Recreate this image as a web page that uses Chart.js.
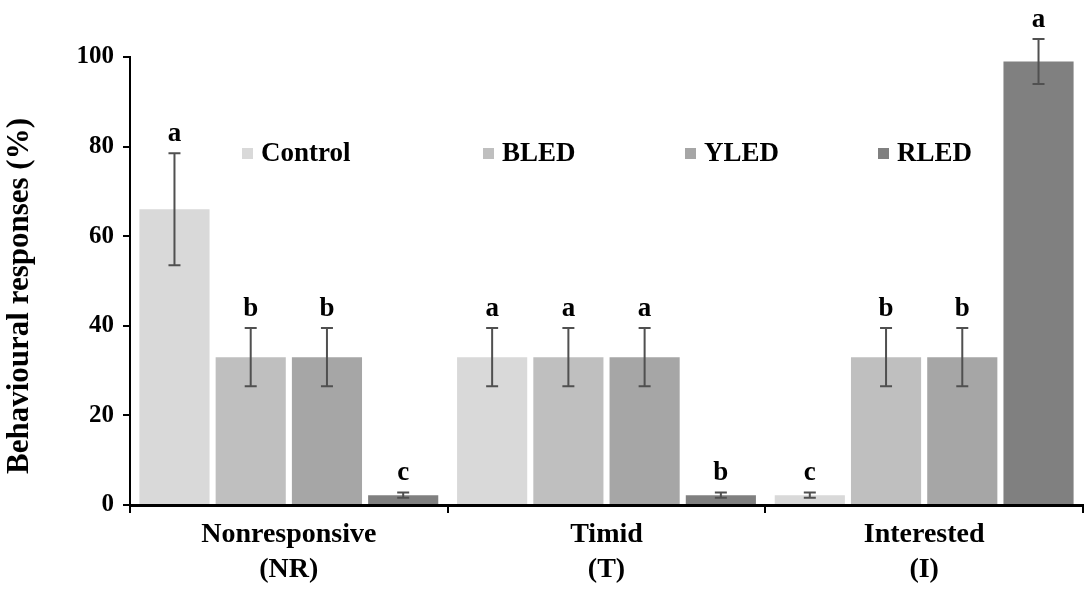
<!DOCTYPE html>
<html>
<head>
<meta charset="utf-8">
<script src="https://cdn.jsdelivr.net/npm/chart.js@4.4.1/dist/chart.umd.min.js"></script>
<style>
  html, body { margin: 0; padding: 0; background: #fff; }
  #wrap { width: 1086px; height: 590px; }
</style>
</head>
<body>
<div id="wrap"><canvas id="c" width="1086" height="590"></canvas></div>
<script>
  // data
  const categories = [["Nonresponsive", "(NR)"], ["Timid", "(T)"], ["Interested", "(I)"]];
  const seriesNames = ["Control", "BLED", "YLED", "RLED"];
  const control = [66, 33, 2.2];
  const bled = [33, 33, 33];
  const yled = [33, 33, 33];
  const rled = [2.2, 2.2, 99];
  const controlErr = [12.5, 6.5, 0.6];
  const bledErr = [6.5, 6.5, 6.5];
  const yledErr = [6.5, 6.5, 6.5];
  const rledErr = [0.6, 0.6, 5];
  const controlSig = ["a", "a", "c"];
  const bledSig = ["b", "a", "b"];
  const yledSig = ["b", "a", "b"];
  const rledSig = ["c", "b", "a"];
  const yTicks = [0, 20, 40, 60, 80, 100];
  const yTitle = "Behavioural responses (%)";

  const colors = ["#d9d9d9", "#bfbfbf", "#a6a6a6", "#808080"];
  const FONT = "'Liberation Serif', 'Times New Roman', serif";
  // legend item offsets from the plot's left edge (Excel-style free layout)
  const legendX = [112, 353, 555, 748];

  const values = [control, bled, yled, rled];
  const errs = [controlErr, bledErr, yledErr, rledErr];
  const sigs = [controlSig, bledSig, yledSig, rledSig];

  // error bars + significance letters
  const errorBars = {
    id: "errorBars",
    afterDatasetsDraw(chart) {
      const ctx = chart.ctx;
      const y = chart.scales.y;
      ctx.save();
      chart.data.datasets.forEach((ds, di) => {
        const meta = chart.getDatasetMeta(di);
        meta.data.forEach((bar, i) => {
          const v = ds.data[i], e = errs[di][i];
          const yHi = y.getPixelForValue(v + e), yLo = y.getPixelForValue(v - e);
          ctx.strokeStyle = "#505050";
          ctx.lineWidth = 2;
          ctx.beginPath();
          ctx.moveTo(bar.x, yLo); ctx.lineTo(bar.x, yHi);
          ctx.moveTo(bar.x - 6, yHi); ctx.lineTo(bar.x + 6, yHi);
          if (v - e > 0.5) { ctx.moveTo(bar.x - 6, yLo); ctx.lineTo(bar.x + 6, yLo); }
          ctx.stroke();
          ctx.fillStyle = "#000";
          ctx.font = "bold 27px " + FONT;
          ctx.textAlign = "center";
          ctx.textBaseline = "alphabetic";
          ctx.fillText(sigs[di][i], bar.x, yHi - 12);
        });
      });
      ctx.restore();
    }
  };

  // legend drawn inside the plot, single row; plus the rotated y title
  const innerLegend = {
    id: "innerLegend",
    afterDraw(chart) {
      const ctx = chart.ctx;
      const a = chart.chartArea;
      ctx.save();
      ctx.font = "bold 27px " + FONT;
      ctx.textBaseline = "middle";
      ctx.textAlign = "left";
      chart.data.datasets.forEach((ds, i) => {
        const x = a.left + legendX[i];
        const yy = 153;
        ctx.fillStyle = ds.backgroundColor;
        ctx.fillRect(x, yy - 5, 11, 11);
        ctx.fillStyle = "#000";
        ctx.fillText(ds.label, x + 19, yy + 1);
      });
      // y title, sitting a little below the axis middle as in the figure
      ctx.translate(20, (a.top + a.bottom) / 2 + 15);
      ctx.rotate(-Math.PI / 2);
      ctx.font = "bold 31px " + FONT;
      ctx.textAlign = "center";
      ctx.fillText(yTitle, 0, 0);
      ctx.restore();
    }
  };

  new Chart(document.getElementById("c"), {
    type: "bar",
    data: {
      labels: categories,
      datasets: seriesNames.map((name, i) => ({
        label: name,
        data: values[i],
        backgroundColor: colors[i],
        borderWidth: 0,
        categoryPercentage: 0.96,
        barPercentage: 0.92,
      })),
    },
    options: {
      responsive: false,
      animation: false,
      layout: { padding: { top: 57, right: 3, left: 0, bottom: 0 } },
      plugins: { legend: { display: false }, tooltip: { enabled: false } },
      scales: {
        x: {
          afterFit: s => { s.height = 85; },
          grid: { drawOnChartArea: false, color: "#000", tickLength: 8, lineWidth: 2 },
          border: { color: "#000", width: 3 },
          ticks: { color: "#000", font: { family: FONT, size: 28, weight: "bold", lineHeight: 1.25 }, padding: 4, maxRotation: 0 },
        },
        y: {
          min: 0, max: 100,
          afterFit: s => { s.width = 130; },
          afterBuildTicks: s => { s.ticks = yTicks.map(v => ({ value: v })); },
          grid: { drawOnChartArea: false, color: "#000", tickLength: 7, lineWidth: 2 },
          border: { color: "#000", width: 2 },
          ticks: { color: "#000", font: { family: FONT, size: 25, weight: "bold" }, padding: 9 },
        },
      },
    },
    plugins: [errorBars, innerLegend],
  });
</script>
</body>
</html>
